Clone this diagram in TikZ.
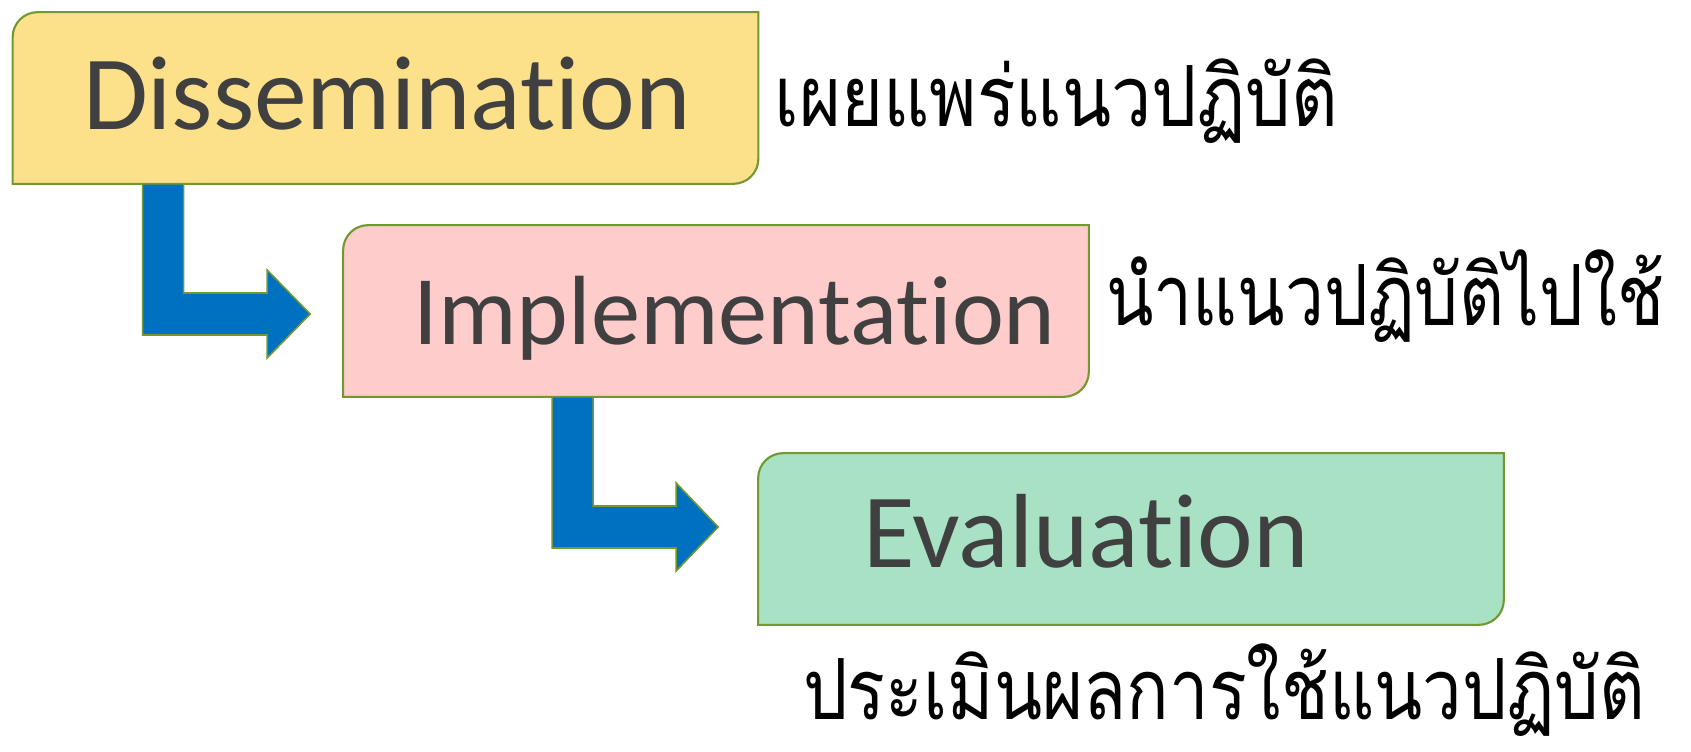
\documentclass[tikz,border=0pt]{standalone}
\usepackage{graphicx}
\usepackage{fontspec}
\newfontfamily\boxfont[Ligatures=NoCommon]{Carlito}
\newfontfamily\thaifont[Script=Thai]{Loma}
\usetikzlibrary{calc,backgrounds}
\definecolor{edgegreen}{RGB}{112,153,48}
\definecolor{dissfill}{RGB}{253,224,138}
\definecolor{implfill}{RGB}{255,204,204}
\definecolor{evalfill}{RGB}{168,225,196}
\definecolor{arrowblue}{RGB}{0,112,192}
\definecolor{textgray}{RGB}{64,64,64}

\begin{document}
\begin{tikzpicture}
    \tikzset { stage/.style = { minimum height=3.42cm, text width=12.1cm, inner xsep=1.4cm, align=left,
        text height=1.36cm, text depth=0pt, font=\boxfont\fontsize{#1}{#1}\selectfont, text=textgray } }
    \tikzset { thai/.style = { anchor=base west, inner sep=0pt, font=\thaifont\fontsize{48}{48}\selectfont } }
    \tikzset { stageline/.style = { draw=edgegreen, line width=1.2pt } }
    \tikzset { blockarrow/.style = { fill=arrowblue, draw=edgegreen, line width=0.9pt, line join=miter } }

    \useasboundingbox (0,0) rectangle (33.82,15.04);

    \node[stage=60, text depth=0.08cm] (diss) at (7.71,13.08) {Dissemination};
    \node[stage=56] (impl) at (14.32,8.82) {Implementation};
    \node[stage=60, text depth=0.22cm] (eval) at (22.62,4.26) {\hspace*{0.7cm}Evaluation};

    \node[thai] (disstxt) at ([xshift=0.32cm,yshift=-0.58cm]diss.east) {\resizebox{11.26cm}{\height}{เผยแพร่แนวปฏิบัติ}};
    \node[thai] (impltxt) at ([xshift=0.34cm,yshift=-0.3cm]impl.east) {\resizebox{11.16cm}{\height}{นำแนวปฏิบัติไปใช้}};
    \node[thai, anchor=base] (evaltxt) at ([xshift=1.86cm,yshift=-1.9cm]eval.south) {\resizebox{16.84cm}{\height}{ประเมินผลการใช้แนวปฏิบัติ}};

    \begin{scope}[on background layer]
      \foreach \n/\c in {diss/dissfill, impl/implfill, eval/evalfill}
        \draw[stageline, fill=\c] (\n.south west) -- ([yshift=-0.5cm]\n.north west)
          arc[start angle=180, end angle=90, radius=0.5cm] -- (\n.north east)
          -- ([yshift=0.5cm]\n.south east) arc[start angle=0, end angle=-90, radius=0.5cm] -- cycle;
    \end{scope}

    \coordinate (tipa) at ([xshift=-0.66cm,yshift=-0.06cm]impl.west);
    \coordinate (tipb) at ([xshift=-0.8cm,yshift=0.24cm]eval.west);

    \draw[blockarrow] ([xshift=2.6cm]diss.south west) -- ++(0.82,0) |- ($(tipa)+(-0.86,0.42)$)
      -- ++(0,0.46) -- (tipa) -- ++(-0.86,-0.88) -- ++(0,0.46) -| ([xshift=2.6cm]diss.south west) -- cycle;
    \draw[blockarrow] ([xshift=4.18cm]impl.south west) -- ++(0.82,0) |- ($(tipb)+(-0.84,0.42)$)
      -- ++(0,0.46) -- (tipb) -- ++(-0.84,-0.88) -- ++(0,0.46) -| ([xshift=4.18cm]impl.south west) -- cycle;
\end{tikzpicture}
\end{document}
